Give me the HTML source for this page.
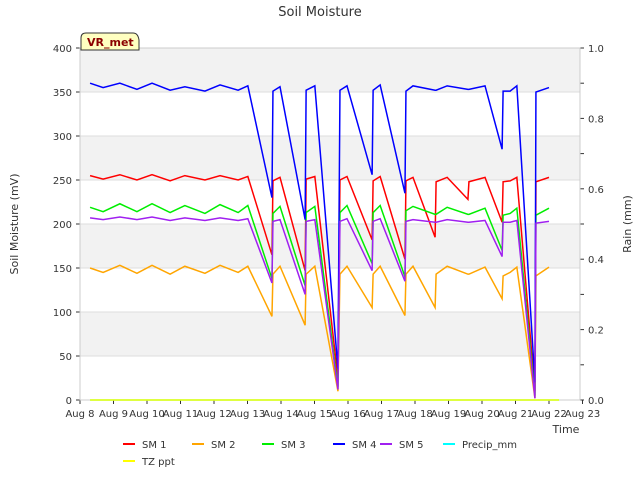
<!DOCTYPE html>
<html><head><meta charset="utf-8"><style>
body{margin:0;background:#fff;font-family:"Liberation Sans","DejaVu Sans",sans-serif}
svg text{font-family:"DejaVu Sans","Liberation Sans",sans-serif}
</style></head><body>
<svg id="c" width="640" height="480" xmlns="http://www.w3.org/2000/svg">
<rect width="640" height="480" fill="#fff"/>
<text x="320" y="16" text-anchor="middle" font-size="13" fill="#333">Soil Moisture</text>
<g id="plot"></g>
<g id="marks"></g>
<g>
<path d="M81,50 L81,38 Q81,33 86,33 L133,33 Q138,33 139,40 L139,50 Z" fill="#ffffc0" stroke="#333" stroke-width="1"/>
<text x="87" y="46" font-size="11" font-weight="bold" fill="#8b0000">VR_met</text>
</g>
<text x="566" y="433" text-anchor="middle" font-size="11" fill="#333">Time</text>
<text transform="translate(18,224) rotate(-90)" text-anchor="middle" font-size="11" fill="#333">Soil Moisture (mV)</text>
<text transform="translate(631,224) rotate(-90)" text-anchor="middle" font-size="11" fill="#333">Rain (mm)</text>
<g id="legend"></g>
</svg>
<script>
const days=[0.30,0.69,1.19,1.70,2.15,2.69,3.13,3.73,4.18,4.72,5.01,5.73,5.76,5.97,6.72,6.75,7.01,7.70,7.76,7.97,8.72,8.75,8.96,9.70,9.73,9.94,10.60,10.63,10.96,11.58,11.61,12.09,12.60,12.63,12.84,13.04,13.58,13.61,14.0];
const sm4=[360,355,360,353,360,352,356,351,358,352,357,230,351,356,205,352,357,35,352,357,256,352,358,235,351,357,352,352,357,353,353,357,285,351,351,357,20,350,355];
const sm1=[255,251,256,250,256,249,255,250,255,250,254,165,249,253,147,251,254,25,250,254,182,249,254,160,249,253,185,248,253,228,248,253,202,248,249,253,10,248,253];
const sm3=[219,214,223,214,223,213,221,212,222,213,221,138,212,220,130,213,220,15,213,221,155,213,221,140,215,220,211,211,219,211,211,218,170,210,212,218,5,210,218];
const sm5=[207,205,208,205,208,204,207,204,207,204,206,133,203,205,120,203,205,12,203,206,147,203,206,135,203,205,202,202,205,202,202,204,163,202,202,204,2,201,203];
const sm2=[150,145,153,144,153,143,152,144,153,145,152,95,143,152,85,143,152,10,143,152,105,143,152,96,143,152,105,143,152,143,143,151,115,141,145,151,2,141,151];
const rainDays=[0.3,14.3];
const tzppt=[0,0];
const precip=[0,0];
const xLabels=["Aug 8","Aug 9","Aug 10","Aug 11","Aug 12","Aug 13","Aug 14","Aug 15","Aug 16","Aug 17","Aug 18","Aug 19","Aug 20","Aug 21","Aug 22","Aug 23"];
const yTicks=[0,50,100,150,200,250,300,350,400];
const y2Ticks=[0.0,0.2,0.4,0.6,0.8,1.0];

const L=80,R=580,T=48,B=400,NS="http://www.w3.org/2000/svg";
const X=d=>L+d*33.5;
const Y=v=>B-(v/400)*(B-T);
const Y2=v=>B-v*(B-T);
function el(t,a,p){const e=document.createElementNS(NS,t);for(const k in a)e.setAttribute(k,a[k]);p.appendChild(e);return e;}
const plot=document.getElementById('plot'),marks=document.getElementById('marks'),lg=document.getElementById('legend');
const bg=el('rect',{x:L,y:T,width:R-L,height:B-T,fill:'#fff'},plot);


for(let i=0;i<8;i+=2){const r=el('rect',{x:L,y:Y(400-i*50),width:R-L,height:Y(350-i*50)-Y(400-i*50),fill:'#f2f2f2'},plot);

}
yTicks.forEach(v=>{el('line',{x1:L,x2:R,y1:Y(v),y2:Y(v),stroke:'#ddd','stroke-width':1},plot);
el('line',{x1:L-4,x2:L,y1:Y(v),y2:Y(v),stroke:'#333'},plot);
const t=el('text',{x:L-8,y:Y(v)+4,'text-anchor':'end','font-size':10,fill:'#333'},plot);t.textContent=v;

});
for(let i=0;i<=10;i++){el('line',{x1:R,x2:R+4,y1:Y2(i/10),y2:Y2(i/10),stroke:'#333'},plot);}
y2Ticks.forEach(v=>{const t=el('text',{x:R+8,y:Y2(v)+4,'font-size':10,fill:'#333'},plot);t.textContent=v.toFixed(1);

});
xLabels.forEach((s,i)=>{el('line',{x1:X(i),x2:X(i),y1:B,y2:B+4,stroke:'#333'},plot);
const t=el('text',{x:X(i),y:B+17,'text-anchor':'middle','font-size':10,fill:'#333'},plot);t.textContent=s;

});
el('rect',{x:L,y:T,width:R-L,height:B-T,fill:'none',stroke:'#ccc'},plot);
function line(ds,vs,yf,c,name){const p=el('polyline',{points:ds.map((d,i)=>X(d)+','+yf(vs[i])).join(' '),fill:'none',stroke:c,'stroke-width':1.5},marks);

}
line(days,sm1,Y,'#ff0000','sm1-line');
line(days,sm2,Y,'#ffa500','sm2-line');
line(days,sm3,Y,'#00ee00','sm3-line');
line(days,sm4,Y,'#0000ff','sm4-line');
line(days,sm5,Y,'#a020f0','sm5-line');
line(rainDays,precip,Y2,'#00ffff','precip-line');
line(rainDays,tzppt,Y2,'#ffff00','tz-ppt-line');
const items=[["SM 1","#ff0000",123,444],["SM 2","#ffa500",192,444],["SM 3","#00ee00",262,444],["SM 4","#0000ff",333,444],["SM 5","#a020f0",380,444],["Precip_mm","#00ffff",443,444],["TZ ppt","#ffff00",123,461]];
items.forEach(it=>{const g=el('g',{},lg);


el('line',{x1:it[2],x2:it[2]+12,y1:it[3],y2:it[3],stroke:it[1],'stroke-width':2},g);
const t=el('text',{x:it[2]+19,y:it[3]+4,'font-size':10,fill:'#333'},g);t.textContent=it[0];});
</script>
</body></html>
